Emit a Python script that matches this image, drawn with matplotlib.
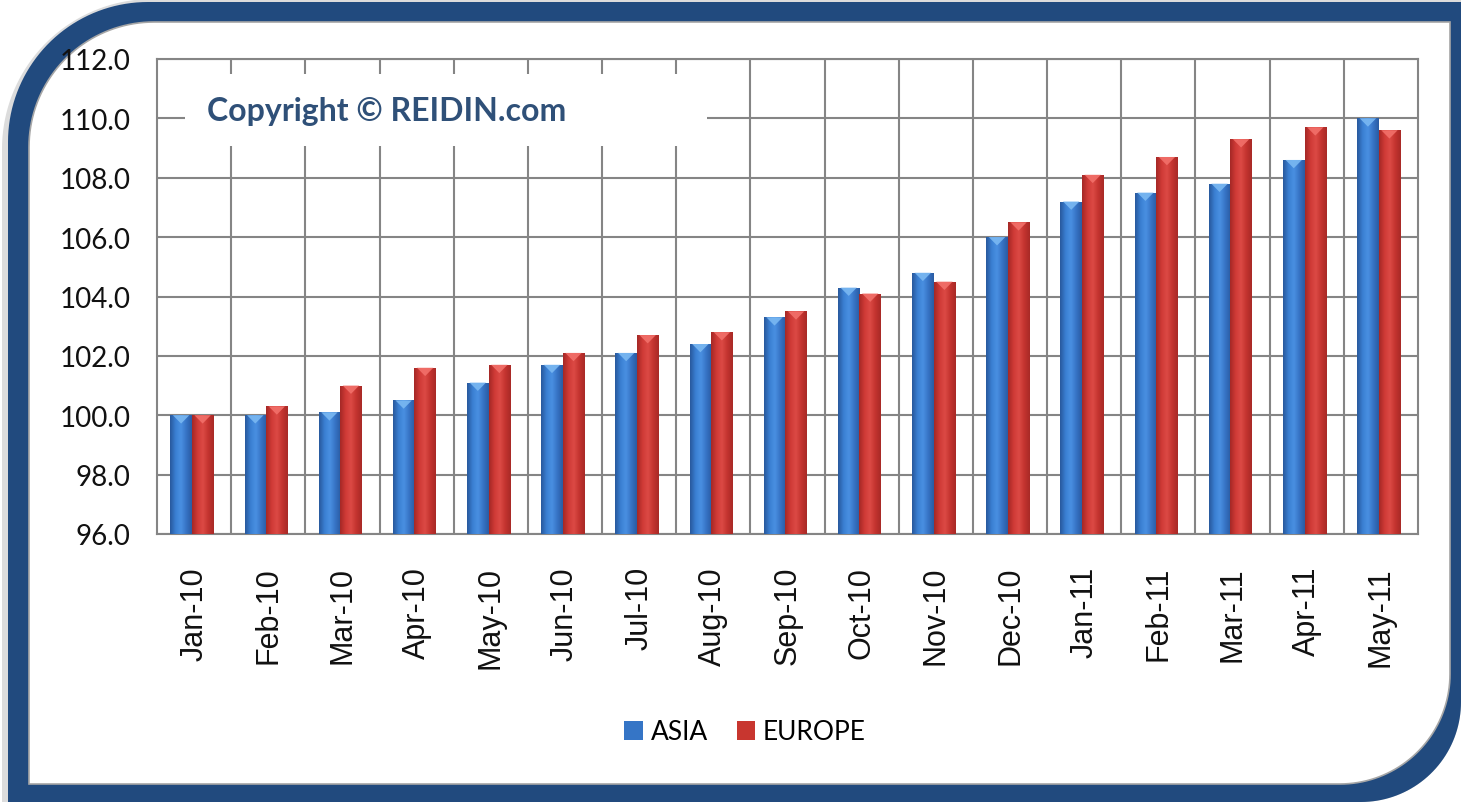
import numpy as np
import matplotlib
matplotlib.use('Agg')
import matplotlib.pyplot as plt
from matplotlib.patches import Polygon, Patch, Rectangle
from matplotlib.colors import LinearSegmentedColormap

# Data
months = ['Jan-10', 'Feb-10', 'Mar-10', 'Apr-10', 'May-10', 'Jun-10', 'Jul-10',
          'Aug-10', 'Sep-10', 'Oct-10', 'Nov-10', 'Dec-10', 'Jan-11', 'Feb-11',
          'Mar-11', 'Apr-11', 'May-11']
asia = [100.0, 100.0, 100.1, 100.5, 101.1, 101.7, 102.1, 102.4, 103.3, 104.3,
        104.8, 106.0, 107.2, 107.5, 107.8, 108.6, 110.0]
europe = [100.0, 100.3, 101.0, 101.6, 101.7, 102.1, 102.7, 102.8, 103.5, 104.1,
          104.5, 106.5, 108.1, 108.7, 109.3, 109.7, 109.6]
y_ticks = [96, 98, 100, 102, 104, 106, 108, 110, 112]

W, H = 1461, 803
fig = plt.figure(figsize=(W / 100, H / 100), dpi=100)
fig.patch.set_facecolor('white')


def frame_path(x0, y0, x1, y1, r_tl, r_br, n=40):
    # rectangle in pixel coords (y down) with rounded top-left and bottom-right corners
    pts = [(x0 + r_tl, y0), (x1, y0), (x1, y1 - r_br)]
    a = np.linspace(0, np.pi / 2, n)
    pts += [(x1 - r_br + r_br * np.cos(t), y1 - r_br + r_br * np.sin(t)) for t in a]
    pts += [(x0, y1), (x0, y0 + r_tl)]
    a = np.linspace(np.pi, 1.5 * np.pi, n)
    pts += [(x0 + r_tl + r_tl * np.cos(t), y0 + r_tl + r_tl * np.sin(t)) for t in a]
    return [(x / W, 1 - y / H) for x, y in pts]


# soft shadow, blue frame, white inner panel
fig.patches.append(Polygon(frame_path(2, 0, 1461, 803, 150, 100), closed=True,
                           transform=fig.transFigure, facecolor='#dcdcdc',
                           edgecolor='none', zorder=0))
fig.patches.append(Polygon(frame_path(8, 3, 1461, 803, 140, 100), closed=True,
                           transform=fig.transFigure, facecolor='#214a7e',
                           edgecolor='none', zorder=1))
fig.patches.append(Polygon(frame_path(29, 23, 1450, 785, 125, 110), closed=True,
                           transform=fig.transFigure, facecolor='white',
                           edgecolor='#a6a6a6', linewidth=1.2, zorder=2))

ax = fig.add_axes([157 / W, 268 / H, (1418 - 157) / W, (535 - 60) / H], zorder=3)
ax.set_facecolor('none')

x = np.arange(len(months))
bw = 0.29
blue_cmap = LinearSegmentedColormap.from_list('b', ['#28589c', '#3a7fd2', '#4a90e2', '#3673c4', '#2a5ca3'])
red_cmap = LinearSegmentedColormap.from_list('r', ['#a42826', '#cf3a36', '#dc4a45', '#c3332f', '#a82a27'])
grad = np.linspace(0, 1, 64).reshape(1, -1)

for offset, vals, cmap, cap in [(-bw / 2 - 0.03, asia, blue_cmap, '#7ab8f2'),
                                (bw / 2 - 0.03, europe, red_cmap, '#f2706a')]:
    bars = ax.bar(x + offset, np.array(vals) - 96, bw, bottom=96, color='none',
                  edgecolor='none', zorder=3)
    for b, v in zip(bars, vals):
        bx = b.get_x()
        im = ax.imshow(grad, cmap=cmap, extent=(bx, bx + bw, 96, v), aspect='auto',
                       zorder=3, interpolation='bicubic')
        im.set_clip_path(b)
        # light triangular cap on top of each bar
        tri = Polygon([(bx + bw * 0.12, v), (bx + bw * 0.88, v), (bx + bw * 0.5, v - 0.28)],
                      closed=True, facecolor=cap, edgecolor='none', zorder=4, alpha=0.9)
        ax.add_patch(tri)

ax.set_xlim(-0.5, len(months) - 0.5)
ax.set_ylim(96, 112)
ax.set_yticks(y_ticks)
ax.set_yticklabels(['%.1f' % t for t in y_ticks], fontsize=20, family='Lato',
                   color='#111111')
ax.set_xticks(x)
ax.set_xticklabels(months, rotation=90, fontsize=22, family='Liberation Sans',
                   color='#111111')
ax.tick_params(axis='both', length=0)
ax.tick_params(axis='y', pad=19)
ax.tick_params(axis='x', pad=23)

# grid: horizontal at each tick, vertical between month groups
ax.set_axisbelow(True)
ax.yaxis.grid(True, color='#858585', linewidth=1.5)
for b in np.arange(0.5, len(months) - 1, 1.0):
    ax.axvline(b, color='#858585', linewidth=1.5, zorder=0.5)
for s in ax.spines.values():
    s.set_color('#858585')
    s.set_linewidth(1.5)

# copyright label with white box over the grid
ax.add_patch(Rectangle((0.022, 0.817), 0.414, 0.151, transform=ax.transAxes,
                       facecolor='white', edgecolor='none', zorder=1))
ax.text(0.04, 0.891, 'Copyright \u00a9 REIDIN.com', transform=ax.transAxes,
        fontsize=23, fontweight='bold', family='Lato', color='#2f5078',
        va='center', ha='left', zorder=2)

# legend
handles = [Patch(facecolor='#3575c6', edgecolor='none', label='ASIA'),
           Patch(facecolor='#c8362f', edgecolor='none', label='EUROPE')]
fig.legend(handles=handles, loc='center', bbox_to_anchor=(745 / W, 1 - 733 / H),
           ncol=2, frameon=False, prop={'family': 'Lato', 'size': 19},
           handlelength=0.7, handleheight=0.7, handletextpad=0.3, columnspacing=1.1)

plt.savefig('out.png', dpi=100)
